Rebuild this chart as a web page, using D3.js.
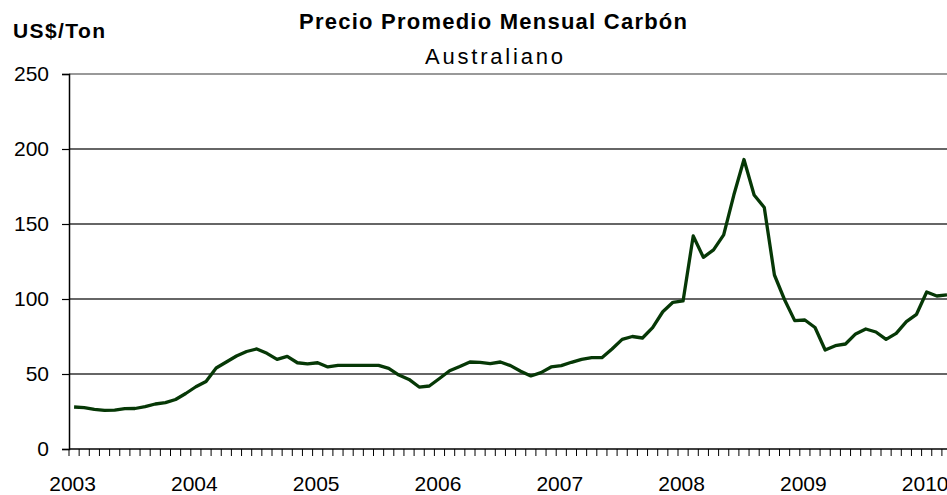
<!DOCTYPE html>
<html>
<head>
<meta charset="utf-8">
<script src="https://cdn.jsdelivr.net/npm/d3@7"></script>
<style>
  body { margin: 0; background: #fff; }
  svg { display: block; font-family: "Liberation Sans", Arial, sans-serif; }
</style>
</head>
<body>
<div id="chart"></div>
<script>
// monthly average price, Jan 2003 .. Mar 2010
var prices = [
  28, 27.6, 26.4, 25.8, 25.9, 26.9, 27, 28.2, 30, 30.9, 33, 37,
  41.5, 45, 54, 58, 62, 65, 66.7, 63.8, 59.8, 61.8, 57.5, 56.7,
  57.5, 54.7, 55.8, 55.8, 55.8, 55.8, 55.8, 53.8, 49.3, 46.4, 41.3, 42,
  47, 52.2, 55, 58, 57.8, 56.9, 58, 55.6, 51.8, 48.7, 50.9, 54.7,
  55.6, 57.8, 59.8, 60.9, 60.9, 66.7, 73.1, 75, 74, 80.9, 91.5, 97.8,
  98.7, 142, 127.8, 132.7, 142.7, 169.3, 193, 169.3, 161, 116, 99.5, 85.6,
  86, 81, 66, 68.9, 70, 76.7, 80, 78, 73.1, 77.1, 84.9, 89.8,
  104.7, 102, 102.7
];
var years = [2003, 2004, 2005, 2006, 2007, 2008, 2009, 2010];
var yTicks = [0, 50, 100, 150, 200, 250];
var titleText = "Precio Promedio Mensual Carbón";
var subtitleText = "Australiano";
var unitText = "US$/Ton";

var svgWidth = 947, svgHeight = 495;
var plotLeft = 69, plotTop = 74, plotBottom = 449;
var monthWidth = 10.15;
var lineColour = "#063806";
var fontSize = "21px";

var months = d3.range(prices.length);

var svg = d3.select("#chart").append("svg")
    .attr("width", svgWidth)
    .attr("height", svgHeight);

var x = d3.scaleBand()
    .domain(months)
    .range([plotLeft, plotLeft + monthWidth * months.length]);

var y = d3.scaleLinear()
    .domain([0, 250])
    .range([plotBottom, plotTop]);

//gridlines
svg.append("g")
    .selectAll("line")
    .data(yTicks.filter(function(d) { return d > 0; }))
    .join("line")
    .attr("x1", plotLeft)
    .attr("x2", svgWidth)
    .attr("y1", function(d) { return y(d); })
    .attr("y2", function(d) { return y(d); })
    .style("stroke", function(d) { return d === 250 ? "#777" : "#333"; })
    .style("stroke-width", 1.6);

//y-axis
var yAxis = svg.append("g")
    .attr("transform", "translate(" + plotLeft + ",0)")
    .call(d3.axisLeft(y).tickValues(yTicks).tickSize(7).tickPadding(13));
yAxis.select(".domain").style("stroke", "#000").style("stroke-width", 1.5);
yAxis.selectAll(".tick line").style("stroke", "#000").style("stroke-width", 1.2);
yAxis.selectAll("text")
    .style("font-size", fontSize)
    .style("font-family", "Liberation Sans, Arial, sans-serif")
    .attr("fill", "#000");

//x-axis: month ticks on the boundaries
var xAxisG = svg.append("g");
xAxisG.append("line")
    .attr("x1", plotLeft)
    .attr("x2", svgWidth)
    .attr("y1", plotBottom)
    .attr("y2", plotBottom)
    .style("stroke", "#000").style("stroke-width", 1.5);
xAxisG.selectAll("line.mtick")
    .data(months)
    .join("line")
    .attr("class", "mtick")
    .attr("x1", function(d) { return x(d); })
    .attr("x2", function(d) { return x(d); })
    .attr("y1", plotBottom)
    .attr("y2", plotBottom + 7)
    .style("stroke", "#000").style("stroke-width", 1);
xAxisG.selectAll("text")
    .data(years)
    .join("text")
    .attr("x", function(d, i) { return x(i * 12) + x.bandwidth() / 2 - 1.5; })
    .attr("y", 491)
    .attr("text-anchor", "middle")
    .style("font-size", fontSize)
    .attr("fill", "#000")
    .text(function(d) { return d; });

//price line
var line = d3.line()
    .x(function(d, i) { return x(i) + x.bandwidth() / 2; })
    .y(function(d) { return y(d); });
svg.append("path")
    .datum(prices)
    .attr("d", line)
    .attr("fill", "none")
    .style("stroke", lineColour)
    .style("stroke-width", 3.3)
    .style("stroke-linejoin", "round");

//titles (stretched a little, the original is rendered wide)
svg.append("text")
    .attr("x", 493).attr("y", 29)
    .attr("text-anchor", "middle")
    .attr("textLength", 388).attr("lengthAdjust", "spacing")
    .style("font-size", "22px").style("font-weight", "bold")
    .text(titleText);
svg.append("text")
    .attr("x", 494).attr("y", 64)
    .attr("text-anchor", "middle")
    .attr("textLength", 138).attr("lengthAdjust", "spacing")
    .style("font-size", "22px")
    .text(subtitleText);
svg.append("text")
    .attr("x", 13).attr("y", 38)
    .attr("textLength", 92).attr("lengthAdjust", "spacing")
    .style("font-size", fontSize).style("font-weight", "bold")
    .text(unitText);
</script>
</body>
</html>
